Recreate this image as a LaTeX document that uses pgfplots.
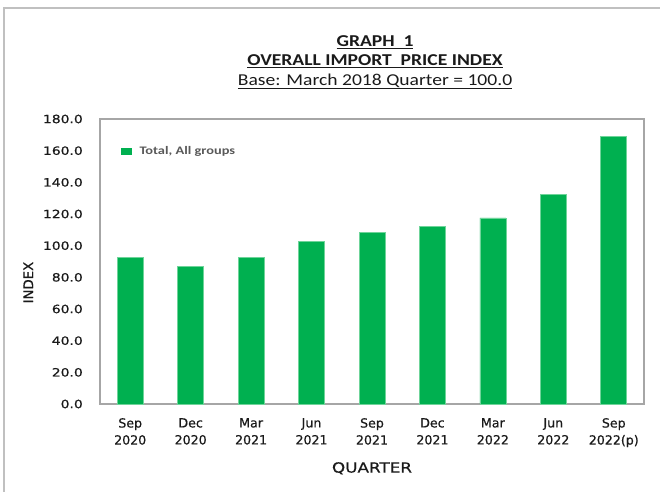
\documentclass[border=0pt]{standalone}
\usepackage{fontspec}
\setmainfont{Carlito}
\newfontfamily\tickfont[FakeStretch=1.22,FakeBold=0.6]{DejaVu Sans}
\newfontfamily\qfont[FakeStretch=1.2,FakeBold=0.5]{DejaVu Sans}
\newfontfamily\titlefont[FakeStretch=1.18]{Carlito}
\newfontfamily\legfont[FakeStretch=1.25]{Carlito}
\newfontfamily\lblfont[FakeBold=0.6]{DejaVu Sans}
\usepackage{pgfplots}
\pgfplotsset{compat=1.18}
\definecolor{bargreen}{HTML}{00B050}
\definecolor{barline}{HTML}{6FD49A}
\definecolor{axisgray}{HTML}{A6A6A6}
\definecolor{framegray}{HTML}{C0C0C0}
\definecolor{txt}{HTML}{1A1A1A}
\definecolor{legtxt}{HTML}{595959}

\begin{document}
\begin{tikzpicture}[x=1pt,y=1pt]
\path[use as bounding box] (0,0) rectangle (660,491);
\draw[framegray, line width=1.5pt] (4,-5) -- (4,483) -- (665,483);

% titles
\node[anchor=base, inner sep=0pt, text=txt, font=\titlefont\bfseries\fontsize{16.6}{18}\selectfont] at (375,444.3) {\underline{GRAPH\ \ 1}};
\node[anchor=base, inner sep=0pt, text=txt, font=\titlefont\bfseries\fontsize{16.6}{18}\selectfont] at (375,425.3) {\underline{OVERALL IMPORT\ \ PRICE INDEX}};
\node[anchor=base, inner sep=0pt, text=txt, font=\titlefont\fontsize{16.6}{18}\selectfont] at (375,406) {\underline{Base: March 2018 Quarter = 100.0}};

\begin{axis}[
  at={(100pt,87pt)}, anchor=south west,
  scale only axis, width=544pt, height=285pt,
  xmin=-0.5, xmax=8.5, ymin=0, ymax=180,
  ytick={0,20,...,180},
  xtick={0,...,8},
  xticklabels={{Sep\\2020},{Dec\\2020},{Mar\\2021},{Jun\\2021},{Sep\\2021},{Dec\\2021},{Mar\\2022},{Jun\\2022},{Sep\\2022(p)}},
  major tick length=0pt,
  axis line style={axisgray, line width=1.5pt},
  /pgf/number format/assume math mode=true,
  yticklabel style={/pgf/number format/.cd, fixed, fixed zerofill, precision=1, /tikz/.cd,
    anchor=east, inner sep=0pt, xshift=-17pt, text=txt,
    font=\tickfont\fontsize{11.4}{13}\selectfont},
  xticklabel style={anchor=north, inner sep=0pt, yshift=-14pt, align=center, text=txt,
    font=\lblfont\fontsize{12.6}{17}\selectfont},
  xlabel={QUARTER},
  xlabel style={at={(axis description cs:0.5,0)}, anchor=north, inner sep=0pt, yshift=-58pt,
    text=txt, font=\qfont\fontsize{14}{15}\selectfont},
  ylabel={INDEX},
  ylabel style={at={(axis description cs:0,0.426)}, anchor=center, inner sep=0pt, yshift=71.7pt,
    text=txt, font=\lblfont\fontsize{13.3}{15}\selectfont},
  ybar, bar width=26pt,
  legend style={at={(0.0386,0.886)}, anchor=west, draw=none, fill=none, inner sep=0pt,
    column sep=7.7pt, nodes={inner sep=0pt}, text=legtxt,
    font=\legfont\bfseries\fontsize{11.5}{13}\selectfont},
  legend image code/.code={\fill[bargreen] (0pt,-3.3pt) rectangle (10pt,3.3pt);},
]
\addplot[fill=bargreen, draw=barline, line width=0.6pt] coordinates {
  (0,92.7) (1,86.9) (2,92.7) (3,102.6) (4,108.6) (5,112.3) (6,117.6) (7,132.5) (8,168.9)};
\addlegendentry{Total, All groups}
\end{axis}
\end{tikzpicture}
\end{document}
